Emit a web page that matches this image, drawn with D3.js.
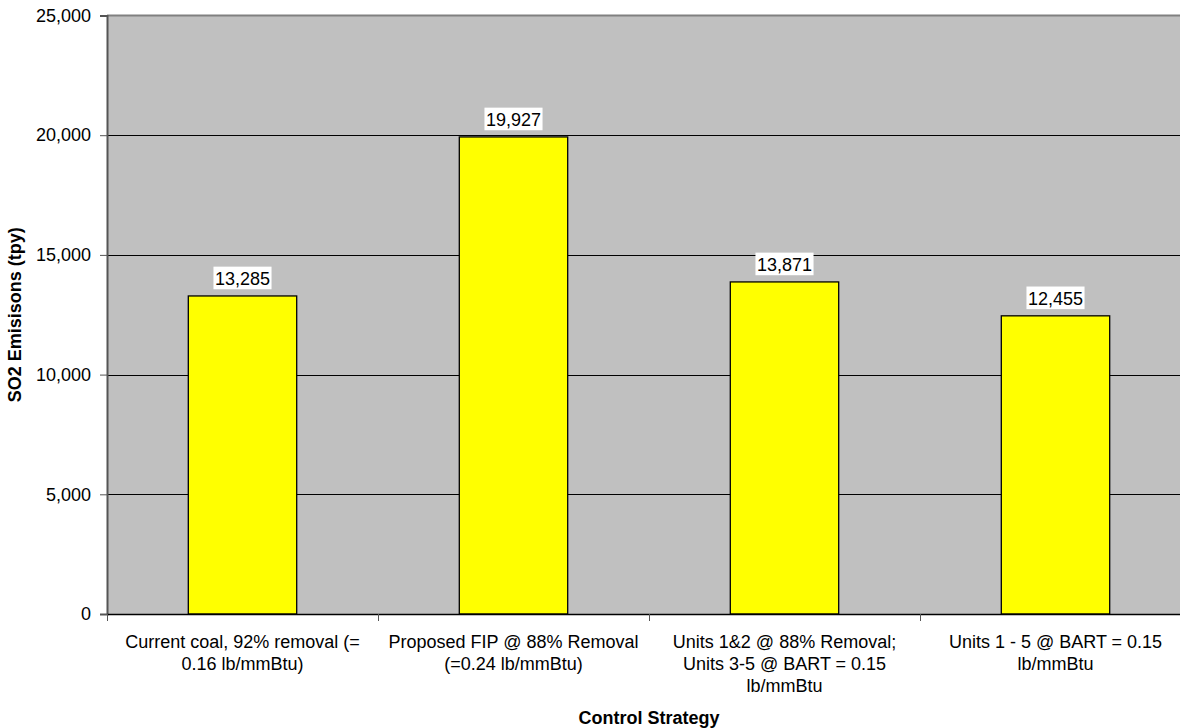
<!DOCTYPE html>
<html><head><meta charset="utf-8">
<script src="https://cdn.jsdelivr.net/npm/d3@7"></script>
<style>body{margin:0;background:#fff}svg{display:block}text{font-family:"Liberation Sans",Arial,sans-serif}</style>
</head><body><svg id="c" width="1180" height="728"></svg>
<script>
const categories = [
  "Current coal, 92% removal (=\n0.16 lb/mmBtu)",
  "Proposed FIP @ 88% Removal\n(=0.24 lb/mmBtu)",
  "Units 1&2 @ 88% Removal;\nUnits 3-5 @ BART = 0.15\nlb/mmBtu",
  "Units 1 - 5 @ BART = 0.15\nlb/mmBtu"
];
const values = [13285, 19927, 13871, 12455];
const yTicks = [0, 5000, 10000, 15000, 20000, 25000];
const yTitle = "SO2 Emisisons (tpy)";
const xTitle = "Control Strategy";

const svg = d3.select("#c");
const L = 107, R = 1191, T = 15.5, B = 614;
const x = d3.scaleBand().domain(categories).range([L, R]).paddingInner(0.6).paddingOuter(0.3);
const xc = d3.scaleBand().domain(categories).range([L, R]);
const y = d3.scaleLinear().domain([0, 25000]).range([B, T]);
const fmt = d3.format(",");
const FS = 18;

svg.append("rect").attr("x", L).attr("y", T).attr("width", R - L).attr("height", B - T).attr("fill", "#c0c0c0");

// gridlines
svg.append("g").selectAll("line").data(yTicks.slice(1, -1)).join("line")
  .attr("x1", L).attr("x2", R).attr("y1", d => Math.round(y(d)) + 0.5).attr("y2", d => Math.round(y(d)) + 0.5)
  .attr("stroke", "#000").attr("stroke-width", 1);
// top border
svg.append("line").attr("x1", L).attr("x2", R).attr("y1", T).attr("y2", T).attr("stroke", "#808080").attr("stroke-width", 2);

// bars
svg.append("g").selectAll("rect").data(values).join("rect")
  .attr("x", (d, i) => x(categories[i]))
  .attr("y", d => y(d))
  .attr("width", x.bandwidth())
  .attr("height", d => B - y(d))
  .attr("fill", "#ffff00").attr("stroke", "#000").attr("stroke-width", 1.3);

// value labels
const lg = svg.append("g");
values.forEach((v, i) => {
  const cx = x(categories[i]) + x.bandwidth() / 2;
  const by = y(v) - 11;
  const t = lg.append("text").attr("x", cx).attr("y", by).attr("text-anchor", "middle")
    .attr("font-size", FS).attr("fill", "#000").text(fmt(v));
  const bb = t.node().getBBox();
  lg.insert("rect", "text").attr("x", bb.x - 1.5).attr("y", by - 18.3).attr("width", bb.width + 3).attr("height", 22.6).attr("fill", "#fff");
});

// y axis
const ya = svg.append("g").attr("transform", `translate(${L},0)`)
  .call(d3.axisLeft(y).tickValues(yTicks).tickFormat(fmt).tickSize(7).tickPadding(9));
ya.select(".domain").attr("stroke", "#555").attr("stroke-width", 2);
ya.selectAll(".tick line").attr("stroke", "#555");
ya.selectAll("text").attr("font-size", FS).attr("fill", "#000").attr("font-family", '"Liberation Sans",Arial,sans-serif');

// x axis
const xa = svg.append("g").attr("transform", `translate(0,${B})`)
  .call(d3.axisBottom(xc).tickSize(0).tickFormat(""));
xa.select(".domain").attr("stroke", "#000").attr("stroke-width", 1.5);
xa.selectAll(".tick").remove();
// category boundary ticks
xa.selectAll("line.ct").data(d3.range(categories.length + 1)).join("line").attr("class", "ct")
  .attr("x1", i => Math.round(L + i * xc.step()) + 0.5).attr("x2", i => Math.round(L + i * xc.step()) + 0.5)
  .attr("y1", 0).attr("y2", 7).attr("stroke", "#555").attr("stroke-width", 1);
// category labels
categories.forEach(c => {
  const cx = xc(c) + xc.bandwidth() / 2;
  const t = svg.append("text").attr("x", cx).attr("y", B + 34).attr("text-anchor", "middle")
    .attr("font-size", FS).attr("fill", "#000");
  c.split("\n").forEach((ln, j) => t.append("tspan").attr("x", cx).attr("dy", j ? 22 : 0).text(ln));
});

// titles
svg.append("text").attr("x", (L + R) / 2).attr("y", 724).attr("text-anchor", "middle")
  .attr("font-size", FS).attr("font-weight", "bold").text(xTitle);
svg.append("text").attr("transform", `translate(21,${(T + B) / 2}) rotate(-90)`).attr("text-anchor", "middle")
  .attr("font-size", FS).attr("font-weight", "bold").text(yTitle);
</script></body></html>
